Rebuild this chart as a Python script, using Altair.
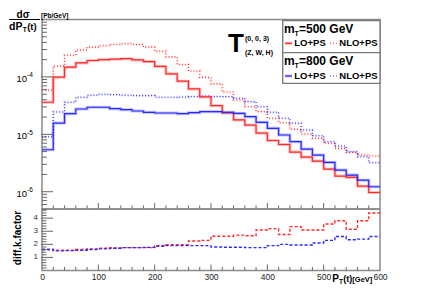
import altair as alt
import pandas as pd

FONT = "Liberation Sans"
W, H = 338, 251
TOP_H = 189.5

# ---------------- data ----------------
bin_lo = [0, 20, 40, 60, 80, 100, 120, 140, 160, 180, 200, 220, 240, 260, 280,
          300, 320, 340, 360, 380, 400, 420, 440, 460, 480, 500, 520, 540, 560, 580]
x_end = 600

lo500 = [3.62e-5, 9.88e-5, 1.48e-4, 1.75e-4, 1.93e-4, 2.00e-4, 2.04e-4, 2.08e-4, 1.98e-4, 1.85e-4,
         1.52e-4, 1.13e-4, 8.41e-5, 6.18e-5, 4.48e-5, 3.16e-5, 2.35e-5, 1.78e-5, 1.45e-5, 1.05e-5,
         7.8e-6, 6.64e-6, 4.91e-6, 4.02e-6, 3.42e-6, 2.48e-6, 1.87e-6, 1.78e-6, 1.25e-6, 9.7e-7]
nlo500 = [5.86e-5, 1.54e-4, 2.39e-4, 2.93e-4, 3.30e-4, 3.48e-4, 3.66e-4, 3.77e-4, 3.66e-4, 3.30e-4,
          2.81e-4, 2.23e-4, 1.64e-4, 1.27e-4, 9.8e-5, 7.55e-5, 5.47e-5, 3.97e-5, 3.03e-5, 2.48e-5,
          1.90e-5, 1.59e-5, 1.22e-5, 1.01e-5, 8.51e-6, 6.97e-6, 5.70e-6, 4.85e-6, 4.35e-6, 4.18e-6]
lo800 = [5.38e-6, 1.57e-5, 2.29e-5, 2.76e-5, 2.96e-5, 2.96e-5, 2.80e-5, 2.69e-5, 2.55e-5, 2.42e-5,
         2.35e-5, 2.35e-5, 2.29e-5, 2.38e-5, 2.48e-5, 2.48e-5, 2.42e-5, 2.31e-5, 2.03e-5, 1.62e-5,
         1.27e-5, 9.72e-6, 7.43e-6, 5.54e-6, 4.35e-6, 3.24e-6, 2.38e-6, 1.95e-6, 1.59e-6, 1.22e-6]
nlo800 = [9.08e-6, 2.45e-5, 3.62e-5, 4.42e-5, 4.80e-5, 4.99e-5, 4.91e-5, 4.80e-5, 4.72e-5, 4.72e-5,
          4.42e-5, 4.42e-5, 4.48e-5, 4.57e-5, 4.66e-5, 4.57e-5, 4.53e-5, 4.25e-5, 3.71e-5, 3.03e-5,
          2.42e-5, 1.90e-5, 1.56e-5, 1.19e-5, 9.46e-6, 7.43e-6, 6.25e-6, 4.97e-6, 4.07e-6, 3.19e-6]
k500 = [1.6, 1.55, 1.55, 1.6, 1.65, 1.7, 1.72, 1.75, 1.75, 1.75,
        1.9, 1.97, 1.97, 2.25, 2.3, 2.62, 2.62, 2.7, 2.65, 3.1,
        3.2, 2.75, 3.35, 3.1, 3.1, 3.55, 3.8, 3.15, 3.8, 4.4]
k800 = [1.6, 1.5, 1.52, 1.55, 1.6, 1.65, 1.7, 1.75, 1.75, 1.77,
        1.85, 1.9, 1.9, 1.9, 1.9, 1.8, 1.78, 1.78, 1.75, 1.75,
        1.9, 2.0, 1.95, 1.95, 2.1, 2.3, 2.6, 2.35, 2.4, 2.6]

x_labels = [0, 100, 200, 300, 400, 500, 600]
x_minor = [v for v in range(20, 600, 20) if v % 100 != 0]
x_major = [100, 200, 300, 400, 500]
top_major = [1e-6, 1e-5, 1e-4]
top_exp = ["-6", "-5", "-4"]
top_minor = [5e-7, 6e-7, 7e-7, 8e-7, 9e-7,
             2e-6, 3e-6, 4e-6, 5e-6, 6e-6, 7e-6, 8e-6, 9e-6,
             2e-5, 3e-5, 4e-5, 5e-5, 6e-5, 7e-5, 8e-5, 9e-5,
             2e-4, 3e-4, 4e-4, 5e-4, 6e-4, 7e-4, 8e-4, 9e-4]
k_major = [1, 2, 3, 4]
k_minor = [0.2, 0.4, 0.6, 0.8, 1.2, 1.4, 1.6, 1.8, 2.2, 2.4, 2.6, 2.8,
           3.2, 3.4, 3.6, 3.8, 4.2, 4.4, 4.6]

RED = "#ff2a2a"
BLUE = "#2a2aff"
TICK = "#666666"
FRAME = "#8a8a8a"

# ---------------- scales / axes ----------------
X_SC = alt.Scale(domain=[0, 600], nice=False, zero=False)
X_AX = alt.Axis(values=x_labels, labelFlush=False, domain=False, ticks=False, grid=False,
                title=None, labelFontSize=8.5, labelColor="#222222", labelFont=FONT,
                labelPadding=2)
Y_TOP = alt.Scale(type="log", domain=[5e-7, 1e-3], range=[TOP_H, 0], nice=False)
Y_BOT = alt.Scale(type="linear", domain=[0, 4.7], range=[H, TOP_H], nice=False, zero=False)

ONE = pd.DataFrame({"a": [0]})


def hist_df(vals):
    return pd.DataFrame({"x": bin_lo + [x_end], "v": vals + [vals[-1]]})


def step(vals, scale, color, dash=None, width=1.2, opacity=1.0):
    kw = dict(interpolate="step-after", color=color, strokeWidth=width, opacity=opacity)
    if dash:
        kw["strokeDash"] = dash
    return alt.Chart(hist_df(vals)).mark_line(**kw).encode(
        x=alt.X("x:Q", scale=X_SC, axis=X_AX),
        y=alt.Y("v:Q", scale=scale, axis=None),
    )


def txt(s, x, y, size, bold=True, align="left", baseline="alphabetic", angle=0, color="black"):
    kw = dict(text=s, fontSize=size, font=FONT, align=align, baseline=baseline, color=color,
              fontWeight="bold" if bold else "normal")
    if angle:
        kw["angle"] = angle
    return alt.Chart(ONE).mark_text(**kw).encode(x=alt.value(x), y=alt.value(y))


def vrule(x1, x2, y, color, width=1.2, dash=None, opacity=1.0):
    kw = dict(color=color, strokeWidth=width, opacity=opacity)
    if dash:
        kw["strokeDash"] = dash
    return alt.Chart(ONE).mark_rule(**kw).encode(x=alt.value(x1), x2=alt.value(x2), y=alt.value(y))


def yticks(vals, scale, x1, x2):
    return alt.Chart(pd.DataFrame({"v": vals})).mark_rule(color=TICK, strokeWidth=1).encode(
        y=alt.Y("v:Q", scale=scale, axis=None), x=alt.value(x1), x2=alt.value(x2))


def xticks(vals, y1, y2):
    return alt.Chart(pd.DataFrame({"x": vals})).mark_rule(color=TICK, strokeWidth=1).encode(
        x=alt.X("x:Q", scale=X_SC, axis=X_AX), y=alt.value(y1), y2=alt.value(y2))


def frame(y0, y1, scale):
    df = pd.DataFrame({"x0": [0], "x1": [600], "y0": [y0], "y1": [y1]})
    return alt.Chart(df).mark_rect(fillOpacity=0, stroke=FRAME, strokeWidth=1.5).encode(
        x=alt.X("x0:Q", scale=X_SC, axis=X_AX), x2="x1:Q",
        y=alt.Y("y0:Q", scale=scale, axis=None), y2="y1:Q")


# ---------------- top panel ----------------
ylab = pd.DataFrame({"v": top_major, "e": top_exp})
top_layers = [
    frame(5e-7, 1e-3, Y_TOP),
    yticks(top_minor, Y_TOP, 0, 5),
    yticks(top_major, Y_TOP, -1, 11),
    xticks(x_minor, TOP_H, TOP_H - 3.5),
    xticks(x_major, TOP_H, TOP_H - 6),
    step(nlo500, Y_TOP, RED, dash=[1, 2], width=3, opacity=0.2),
    step(nlo800, Y_TOP, BLUE, dash=[1, 2], width=3, opacity=0.2),
    step(lo500, Y_TOP, RED, width=3, opacity=0.3),
    step(lo800, Y_TOP, BLUE, width=3, opacity=0.3),
    step(nlo500, Y_TOP, RED, dash=[1, 2], width=1.1),
    step(nlo800, Y_TOP, BLUE, dash=[1, 2], width=1.1),
    step(lo500, Y_TOP, RED, width=1.2),
    step(lo800, Y_TOP, BLUE, width=1.2),
    alt.Chart(ylab).mark_text(text="10", align="right", baseline="middle", fontSize=9.5,
                              font=FONT, dy=2).encode(
        x=alt.value(-15), y=alt.Y("v:Q", scale=Y_TOP, axis=None)),
    alt.Chart(ylab).mark_text(align="left", baseline="middle", fontSize=6.5,
                              font=FONT, dy=-1.5).encode(
        x=alt.value(-15), y=alt.Y("v:Q", scale=Y_TOP, axis=None), text="e:N"),
    # y title: d sigma / dP_T(t) [Pb/GeV]
    txt("dσ", -19, -1.5, 10, align="center"),
    vrule(-33, -2, 0, "black", width=1),
    txt("dP", -33, 10, 10.5),
    txt("T", -19.2, 12.5, 6.5),
    txt("(t)", -14.8, 10, 9.5),
    txt("[Pb/GeV]", -1, -1.5, 6.5),
    # T label
    txt("T", 194, 32.2, 26, align="center"),
    txt("(0, 0, 3)", 203, 19.5, 7, baseline="middle"),
    txt("(Z, W, H)", 203, 33.8, 7, baseline="middle"),
    # legend
    alt.Chart(ONE).mark_rect(fill="white", stroke="#777777", strokeWidth=1.3).encode(
        x=alt.value(240.7), x2=alt.value(338), y=alt.value(1.2), y2=alt.value(63.8)),
    vrule(240.7, 338, 33.2, "#777777", width=1.3),
    txt("m", 242, 13.5, 12),
    txt("T", 252.5, 16.5, 7),
    txt("=500 GeV", 257, 13.5, 12),
    vrule(243, 250, 23.8, RED, width=3, opacity=0.3),
    vrule(243, 250, 23.8, RED, width=1.2),
    txt("LO+PS", 252.3, 23.8, 9.5, baseline="middle"),
    vrule(288, 295, 23.8, RED, width=1.1, dash=[1, 2]),
    txt("NLO+PS", 297.3, 23.8, 9.5, baseline="middle"),
    txt("m", 242, 45.5, 12),
    txt("T", 252.5, 48.5, 7),
    txt("=800 GeV", 257, 45.5, 12),
    vrule(243, 250, 56.5, BLUE, width=3, opacity=0.3),
    vrule(243, 250, 56.5, BLUE, width=1.2),
    txt("LO+PS", 252.3, 56.5, 9.5, baseline="middle"),
    vrule(288, 295, 56.5, BLUE, width=1.1, dash=[1, 2]),
    txt("NLO+PS", 297.3, 56.5, 9.5, baseline="middle"),
]
top = alt.layer(*top_layers)

# ---------------- bottom panel ----------------
klab = pd.DataFrame({"v": k_major, "t": [str(v) for v in k_major]})
bot_layers = [
    frame(0, 4.7, Y_BOT),
    yticks(k_minor, Y_BOT, 0, 4.5),
    yticks(k_major, Y_BOT, -1, 11),
    xticks(x_minor, H, H - 3.5),
    xticks(x_major, H, H - 6),
    step(k500, Y_BOT, RED, dash=[3, 2], width=1.4),
    step(k800, Y_BOT, BLUE, dash=[3, 2], width=1.4),
    alt.Chart(klab).mark_text(align="right", baseline="middle", fontSize=8, font=FONT,
                              color="#333333").encode(
        x=alt.value(-4), y=alt.Y("v:Q", scale=Y_BOT, axis=None), text="t:N"),
    txt("diff.k.factor", -24.5, 218.5, 10, align="center", baseline="middle", angle=270),
    txt("P", 290.3, 262.2, 10),
    txt("T", 297, 264.5, 6.5),
    txt("(t)", 301.3, 262.2, 9),
    txt("[GeV]", 310.3, 262.2, 7.5),
]
bot = alt.layer(*bot_layers)

chart = alt.layer(top, bot).resolve_scale(y="independent").properties(
    width=W, height=H,
    autosize=alt.AutoSizeParams(type="none"),
    padding={"left": 34, "top": 11.5, "right": 34, "bottom": 21.5},
).configure_view(strokeWidth=0).configure_axis(grid=False)

chart.save("out.html", embed_options={"renderer": "svg", "actions": False})
